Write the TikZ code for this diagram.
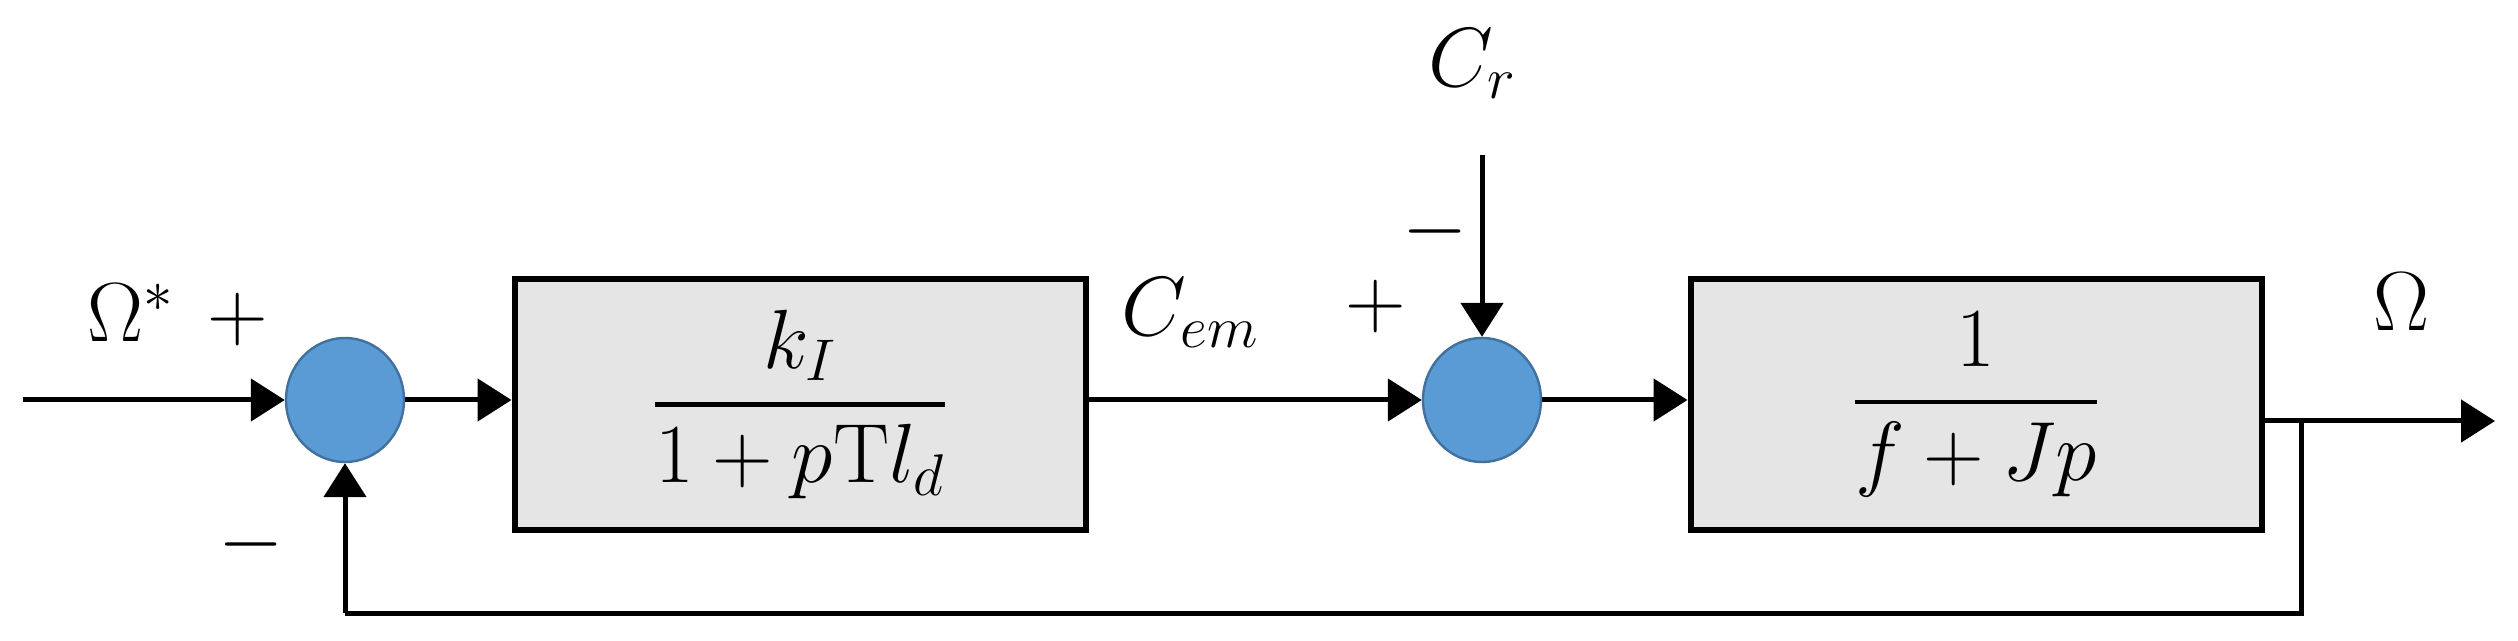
\RequirePackage{fix-cm}
\documentclass[tikz,border=0pt]{standalone}
\usetikzlibrary{arrows.meta,shapes.geometric,calc}
\definecolor{sumfill}{HTML}{5B9BD5}
\definecolor{sumdraw}{HTML}{41719C}
\definecolor{blockfill}{HTML}{E5E5E5}
\begin{document}
\begin{tikzpicture}[x=0.5pt,y=-0.5pt,
  sumnode/.style={ellipse,fill=sumfill,draw=sumdraw,line width=1.2pt,minimum width=59pt,minimum height=62pt,inner sep=0pt},
  blocknode/.style={rectangle,fill=blockfill,draw=black,line width=3pt,minimum width=285.5pt,minimum height=125.5pt,inner sep=0pt},
  lab/.style={inner sep=0pt,font=\fontsize{42}{50}\selectfont},
  sig/.style={line width=2.5pt,-{Triangle[length=17pt,width=21pt]}},
  wire/.style={line width=2.5pt}]
\useasboundingbox (0,0) rectangle (2518,641);
% blocks and summing junctions
\node[sumnode] (s1) at (345,400) {};
\node[sumnode] (s2) at (1482,400) {};
\node[blocknode,lab] (b1) at (800,404.5) {$\displaystyle{k_I \above 2.4pt 1+p\mathrm{T}l_d}$};
\node[blocknode,lab] (b2) at (1976,404.5) {$\displaystyle{1 \above 2.4pt f+Jp}$};
% free ends
\coordinate (in) at (23,400);
\coordinate (crtop) at (1482,155);
\coordinate (outend) at (2495,421);
\coordinate (tap) at (2301,421);
\coordinate (fbr) at (2301,613);
\coordinate (fbl) at (345,613);
% connectors
\draw[sig] (in) -- (s1.west);
\draw[sig] (s1.east) -- (s1.east -| b1.west);
\draw[sig] (s1.east -| b1.east) -- (s2.west);
\draw[sig] (s2.east) -- (s2.east -| b2.west);
\draw[sig] (crtop) -- (s2.north);
\draw[sig] (tap -| b2.east) -- (outend);
\draw[wire] (tap) -- (fbr) -- (fbl);
\draw[sig] (fbl) -- (s1.south);
% labels
\node[lab] (lomegastar) at (131,313) {$\Omega^{*}$};
\node[lab] (lplus1) at (238,320) {$+$};
\node[lab] (lminus1) at (251,545) {$-$};
\node[lab] (lcem) at (1190,313) {$C_{em}$};
\node[lab] (lplus2) at (1376,307) {$+$};
\node[lab] (lminus2) at (1435,232) {$-$};
\node[lab] (lcr) at (1472,64) {$C_r$};
\node[lab] (lomega) at (2402,302) {$\Omega$};
\end{tikzpicture}
\end{document}
